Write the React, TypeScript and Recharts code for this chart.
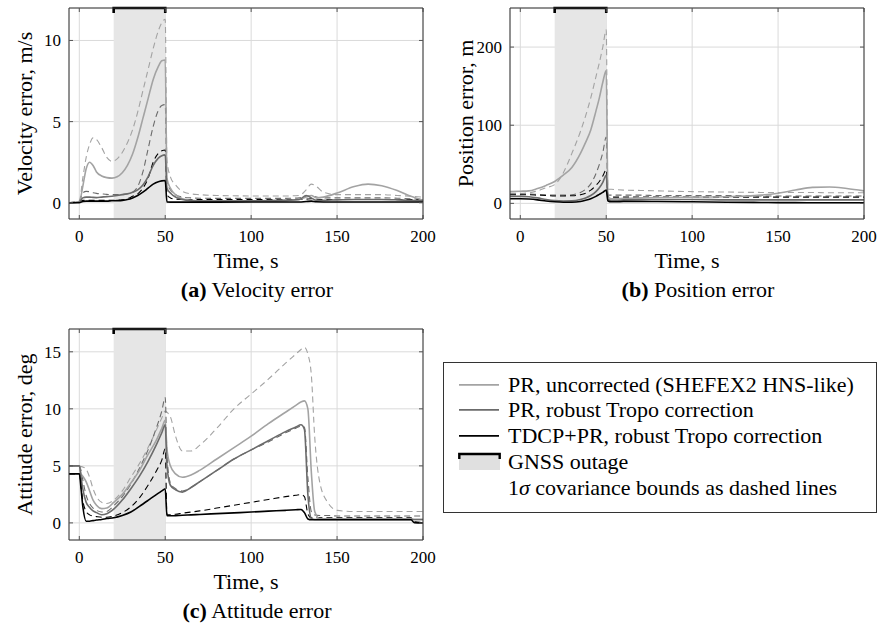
import { CartesianGrid, Line, LineChart, ReferenceArea, XAxis, YAxis } from "recharts";

const SERIF = "'Times New Roman', 'Liberation Serif', Tinos, 'Nimbus Roman', 'DejaVu Serif', serif";
const LIGHT = "#a3a3a3";
const MID = "#6b6b6b";
const DARK = "#000000";

const timeTicks = [0, 50, 100, 150, 200];
const timeDomain = [-6, 200];
const outageStart = 20;
const outageEnd = 50;

// (a) velocity error, m/s
const velTime = [-6, 0, 2, 4, 6, 8, 10, 13, 16, 19, 22, 25, 28, 31, 34, 37, 40, 43, 46, 48, 50, 51, 53, 56, 60, 65, 70, 80, 100, 120, 128, 132, 135, 138, 142, 150, 160, 168, 176, 185, 193, 200];
const velPR = [0, 0.05, 1.0, 2.1, 2.5, 2.3, 1.9, 1.65, 1.55, 1.52, 1.6, 1.85, 2.3, 3.0, 4.0, 5.2, 6.4, 7.6, 8.4, 8.75, 8.8, 1.5, 0.9, 0.5, 0.25, 0.15, 0.12, 0.1, 0.12, 0.15, 0.2, 0.35, 0.45, 0.3, 0.35, 0.6, 1.0, 1.15, 1.05, 0.75, 0.4, 0.15];
const velPRSigma = [0, 0.1, 1.5, 2.8, 3.6, 4.0, 3.9, 3.4, 2.8, 2.55, 2.7, 3.1, 3.7, 4.5, 5.6, 6.9, 8.2, 9.5, 10.6, 11.1, 11.3, 2.6, 1.6, 1.1, 0.7, 0.55, 0.5, 0.45, 0.42, 0.42, 0.45, 0.8, 1.15, 1.0, 0.65, 0.5, 0.5, 0.5, 0.5, 0.45, 0.4, 0.35];
const velRobust = [0, 0.05, 0.3, 0.35, 0.35, 0.33, 0.32, 0.35, 0.38, 0.4, 0.45, 0.5, 0.55, 0.65, 0.8, 1.1, 1.6, 2.3, 2.75, 2.9, 2.95, 0.9, 0.6, 0.35, 0.2, 0.12, 0.1, 0.1, 0.12, 0.15, 0.2, 0.45, 0.3, 0.15, 0.15, 0.18, 0.2, 0.2, 0.2, 0.18, 0.15, 0.12];
const velRobustSigma = [0, 0.1, 0.6, 0.7, 0.68, 0.62, 0.58, 0.55, 0.52, 0.5, 0.5, 0.52, 0.55, 0.65, 1.0, 1.9, 3.3, 4.7, 5.7, 6.0, 6.05, 1.2, 0.8, 0.5, 0.35, 0.3, 0.28, 0.27, 0.27, 0.27, 0.3, 0.4, 0.45, 0.35, 0.3, 0.3, 0.3, 0.3, 0.3, 0.28, 0.25, 0.2];
const velTdcp = [0, 0, 0.08, 0.1, 0.1, 0.1, 0.1, 0.1, 0.1, 0.12, 0.13, 0.15, 0.2, 0.3, 0.45, 0.65, 0.9, 1.15, 1.3, 1.35, 1.37, 0.05, 0.04, 0.04, 0.04, 0.04, 0.04, 0.04, 0.05, 0.05, 0.05, 0.08, 0.1, 0.06, 0.05, 0.05, 0.05, 0.05, 0.05, 0.05, 0.05, 0.05];
const velTdcpSigma = [0, 0.05, 0.15, 0.15, 0.15, 0.15, 0.15, 0.15, 0.15, 0.15, 0.16, 0.18, 0.25, 0.4, 0.55, 0.9, 1.5, 2.5, 3.05, 3.2, 3.25, 0.5, 0.3, 0.22, 0.2, 0.2, 0.2, 0.2, 0.2, 0.2, 0.2, 0.22, 0.25, 0.22, 0.2, 0.2, 0.2, 0.2, 0.2, 0.2, 0.2, 0.2];

// (b) position error, m
const posTime = [-6, 0, 5, 10, 15, 20, 25, 30, 35, 38, 41, 44, 46, 48, 50, 51, 53, 56, 60, 70, 80, 100, 120, 140, 150, 160, 170, 180, 190, 200];
const posPR = [15, 15.5, 16, 19, 23, 28, 36, 46, 64, 78, 94, 118, 135, 155, 170, 8, 6, 6, 6.5, 7, 7.5, 8, 8.5, 10.5, 13, 17, 20.5, 21, 19, 16];
const posPRSigma = [13, 13, 13.5, 16, 20, 24, 39, 64, 92, 112, 135, 162, 180, 200, 222, 18, 18, 17.5, 17, 16.5, 16, 15, 14.5, 14, 14, 14, 14, 13.5, 13.5, 13.5];
const posRobust = [9, 9, 8.5, 7, 5, 3.5, 3, 3.2, 5, 7, 10, 15, 20, 27, 36, 5, 4, 4, 4.5, 5, 5, 5, 4.5, 4.5, 4.5, 4.5, 4.5, 4.5, 4.5, 4.5];
const posRobustSigma = [12, 12, 12, 11.5, 11, 10.5, 10.5, 11, 14, 18, 25, 38, 50, 65, 85, 10.5, 10.5, 10.5, 10.5, 10.5, 10, 10, 10, 9.5, 9.5, 9.5, 9.5, 9.5, 9.5, 9.5];
const posTdcp = [6, 6, 5.5, 4.5, 3, 2, 1.5, 1.5, 2.5, 4, 6, 9, 11.5, 14, 17, 3, 2, 2, 2.5, 2.5, 2.3, 2, 1.5, 1.2, 1, 1, 0.8, 0.8, 0.8, 0.8];
const posTdcpSigma = [11, 11, 11, 10.5, 10, 9.5, 9.5, 9.8, 11, 13, 17, 23, 28, 35, 43, 8.5, 8, 8, 8, 8, 8, 8, 8, 8, 8, 8, 8, 8, 8, 8];

// (c) attitude error, deg
const attTime = [-6, 0, 1, 2, 4, 6, 8, 10, 13, 16, 20, 25, 30, 35, 40, 45, 48, 50, 51, 53, 56, 60, 65, 70, 80, 90, 100, 110, 120, 126, 129, 131, 133, 135, 137, 140, 145, 150, 160, 180, 193, 195, 200];
const attPR = [5, 5, 4.3, 4.1, 3.6, 2.8, 2.0, 1.55, 1.25, 1.3, 1.8, 2.5, 3.5, 4.6, 6.0, 7.3, 8.3, 9.0, 6.5, 5.0, 4.3, 4.0, 4.2, 4.6, 5.6, 6.6, 7.6, 8.7, 9.7, 10.3, 10.6, 10.7, 10.0, 4.5, 1.0, 0.35, 0.35, 0.35, 0.35, 0.35, 0.35, 0.3, 0.3];
const attPRSigma = [5, 5, 4.95, 4.9, 4.7, 4.0, 3.0, 2.3, 1.8, 1.7, 2.0, 2.8, 4.0, 5.2, 6.6, 8.2, 9.2, 9.8, 9.7, 9.3, 7.6, 6.3, 6.3, 6.8, 8.3, 10.0, 11.3, 12.6, 14.0, 14.8, 15.2, 15.4, 14.8, 13.0, 7.5, 3.5, 1.7, 1.1, 1.0, 1.0, 1.0, 1.0, 1.0];
const attRobust = [5, 5, 4.0, 3.0, 1.8, 1.35, 1.05, 0.9, 0.72, 0.8, 1.2, 2.0, 3.0, 4.1, 5.4, 6.9, 7.9, 8.6, 5.0, 3.3, 2.9, 2.7, 3.1, 3.6, 4.6, 5.6, 6.4, 7.2, 8.0, 8.4, 8.6, 8.2, 2.5, 0.4, 0.3, 0.3, 0.3, 0.3, 0.3, 0.3, 0.3, 0.3, 0.3];
const attRobustSigma = [5, 5, 4.6, 3.8, 2.4, 1.7, 1.3, 1.1, 0.95, 1.0, 1.5, 2.3, 3.4, 4.8, 6.4, 8.4, 9.8, 11.0, 6.0, 3.5, 3.0, 2.8, 3.1, 3.6, 4.6, 5.6, 6.4, 7.1, 7.9, 8.3, 8.5, 8.4, 4.0, 1.0, 0.7, 0.65, 0.65, 0.6, 0.6, 0.6, 0.6, 0.6, 0.6];
const attTdcp = [4.3, 4.3, 3.0, 1.5, 0.15, 0.15, 0.2, 0.25, 0.3, 0.38, 0.45, 0.65, 0.95, 1.45, 1.97, 2.5, 2.8, 3.0, 0.62, 0.62, 0.64, 0.67, 0.7, 0.74, 0.81, 0.88, 0.95, 1.03, 1.1, 1.15, 1.18, 0.9, 0.35, 0.28, 0.28, 0.28, 0.28, 0.28, 0.28, 0.28, 0.28, 0.02, 0.0];
const attTdcpSigma = [4.3, 4.3, 3.2, 2.0, 1.0, 0.7, 0.6, 0.55, 0.5, 0.5, 0.6, 0.9, 1.4, 2.2, 3.3, 4.6, 5.5, 6.5, 0.7, 0.72, 0.76, 0.85, 0.95, 1.05, 1.3, 1.55, 1.8, 2.05, 2.3, 2.42, 2.48, 2.3, 0.8, 0.45, 0.45, 0.45, 0.45, 0.45, 0.45, 0.45, 0.45, 0.1, 0.05];

type Series = { pr: number[]; prS: number[]; rob: number[]; robS: number[]; tdcp: number[]; tdcpS: number[] };

function toRows(time: number[], s: Series) {
  return time.map((t, i) => ({
    t,
    pr: s.pr[i],
    prS: s.prS[i],
    rob: s.rob[i],
    robS: s.robS[i],
    tdcp: s.tdcp[i],
    tdcpS: s.tdcpS[i],
  }));
}

const velRows = toRows(velTime, { pr: velPR, prS: velPRSigma, rob: velRobust, robS: velRobustSigma, tdcp: velTdcp, tdcpS: velTdcpSigma });
const posRows = toRows(posTime, { pr: posPR, prS: posPRSigma, rob: posRobust, robS: posRobustSigma, tdcp: posTdcp, tdcpS: posTdcpSigma });
const attRows = toRows(attTime, { pr: attPR, prS: attPRSigma, rob: attRobust, robS: attRobustSigma, tdcp: attTdcp, tdcpS: attTdcpSigma });

// dashed bounds first, solid estimates on top
const lineStyles = [
  { key: "prS", color: LIGHT, dashed: true },
  { key: "robS", color: MID, dashed: true },
  { key: "tdcpS", color: DARK, dashed: true },
  { key: "pr", color: LIGHT, dashed: false },
  { key: "rob", color: MID, dashed: false },
  { key: "tdcp", color: DARK, dashed: false },
];

const legendItems = [
  { label: "PR, uncorrected (SHEFEX2 HNS-like)", color: LIGHT },
  { label: "PR, robust Tropo correction", color: MID },
  { label: "TDCP+PR, robust Tropo correction", color: DARK },
];

function OutageShape(props: any) {
  const { x, y, width, height } = props;
  if (x == null || y == null) return null;
  return (
    <g>
      <rect x={x} y={y} width={width} height={height} fill="#e6e6e6" />
      <path
        d={`M${x},${y + 5} V${y} H${x + width} V${y + 5}`}
        fill="none"
        stroke="#000"
        strokeWidth={2.6}
        strokeLinejoin="miter"
      />
    </g>
  );
}

const tickFont = { fill: "#000", fontSize: 17, fontFamily: SERIF };
const titleFont = { fill: "#000", fontSize: 22, fontFamily: SERIF };

function ErrorPanel({
  left,
  top,
  rows,
  yDomain,
  yTicks,
  yLabel,
}: {
  left: number;
  top: number;
  rows: any[];
  yDomain: number[];
  yTicks: number[];
  yLabel: string;
}) {
  return (
    <div style={{ position: "absolute", left, top }}>
      <LineChart width={440} height={300} data={rows} margin={{ top: 7, right: 16, bottom: 0, left: 0 }}>
        <ReferenceArea x1={outageStart} x2={outageEnd} shape={(p: any) => <OutageShape {...p} />} />
        <CartesianGrid stroke="#dadada" />
        <XAxis
          dataKey="t"
          type="number"
          domain={timeDomain}
          ticks={timeTicks}
          allowDataOverflow
          height={81}
          tickSize={-4}
          tickMargin={15}
          axisLine={{ stroke: "#333" }}
          tickLine={{ stroke: "#555" }}
          tick={tickFont}
          label={{ value: "Time, s", position: "center", dy: 1, ...titleFont }}
        />
        <XAxis
          xAxisId="top"
          orientation="top"
          dataKey="t"
          type="number"
          domain={timeDomain}
          ticks={timeTicks}
          allowDataOverflow
          height={1}
          tickSize={-4}
          axisLine={{ stroke: "#333" }}
          tickLine={{ stroke: "#555" }}
          tickFormatter={() => ""}
        />
        <YAxis
          type="number"
          domain={yDomain}
          ticks={yTicks}
          allowDataOverflow
          width={69}
          tickSize={-4}
          tickMargin={12}
          axisLine={{ stroke: "#333" }}
          tickLine={{ stroke: "#555" }}
          tick={tickFont}
          label={{ value: yLabel, angle: -90, position: "center", dx: -10, ...titleFont }}
        />
        <YAxis
          yAxisId="right"
          orientation="right"
          type="number"
          domain={yDomain}
          ticks={yTicks}
          allowDataOverflow
          width={1}
          tickSize={-4}
          axisLine={{ stroke: "#333" }}
          tickLine={{ stroke: "#555" }}
          tickFormatter={() => ""}
        />
        {lineStyles.map((s) => (
          <Line
            key={s.key}
            dataKey={s.key}
            type="monotone"
            stroke={s.color}
            strokeWidth={s.dashed ? 1.1 : 1.6}
            strokeDasharray={s.dashed ? "6 4" : undefined}
            dot={false}
            isAnimationActive={false}
          />
        ))}
      </LineChart>
    </div>
  );
}

function Caption({ cx, cy, tag, text }: { cx: number; cy: number; tag: string; text: string }) {
  return (
    <div
      style={{
        position: "absolute",
        left: cx - 150,
        top: cy - 13,
        width: 300,
        height: 26,
        lineHeight: "26px",
        textAlign: "center",
        fontSize: 22,
        whiteSpace: "nowrap",
      }}
    >
      <b>{tag}</b> {text}
    </div>
  );
}

function LegendBox() {
  const rowH = 25.8;
  return (
    <div
      style={{
        position: "absolute",
        left: 443,
        top: 362,
        width: 434,
        height: 151,
        border: "1px solid #333",
        boxSizing: "border-box",
        fontSize: 22,
      }}
    >
      {legendItems.map((item, i) => (
        <div key={item.label} style={{ position: "absolute", left: 0, top: 8.5 + i * rowH, height: rowH, lineHeight: `${rowH}px`, whiteSpace: "nowrap" }}>
          <svg width={42} height={rowH} style={{ position: "absolute", left: 15, top: 0 }}>
            <line x1={0} x2={40} y1={rowH / 2} y2={rowH / 2} stroke={item.color} strokeWidth={1.6} />
          </svg>
          <span style={{ position: "absolute", left: 64 }}>{item.label}</span>
        </div>
      ))}
      <div style={{ position: "absolute", left: 0, top: 8.5 + 3 * rowH, height: rowH, lineHeight: `${rowH}px`, whiteSpace: "nowrap" }}>
        <svg width={44} height={rowH} style={{ position: "absolute", left: 14, top: 0 }}>
          <rect x={1} y={5} width={41} height={16} fill="#e0e0e0" />
          <path d="M1.3,10 V5 H41.7 V10" fill="none" stroke="#000" strokeWidth={2.4} />
        </svg>
        <span style={{ position: "absolute", left: 64 }}>GNSS outage</span>
      </div>
      <div style={{ position: "absolute", left: 0, top: 8.5 + 4 * rowH, height: rowH, lineHeight: `${rowH}px`, whiteSpace: "nowrap" }}>
        <span style={{ position: "absolute", left: 64 }}>
          1<i>σ</i> covariance bounds as dashed lines
        </span>
      </div>
    </div>
  );
}

export default function App() {
  return (
    <div
      style={{
        position: "absolute",
        left: 0,
        top: 0,
        width: 881,
        height: 627,
        background: "#fff",
        fontFamily: SERIF,
        color: "#000",
        overflow: "hidden",
      }}
    >
      <ErrorPanel left={0} top={0} rows={velRows} yDomain={[-1, 12]} yTicks={[0, 5, 10]} yLabel="Velocity error, m/s" />
      <ErrorPanel left={441} top={0} rows={posRows} yDomain={[-20, 250]} yTicks={[0, 100, 200]} yLabel="Position error, m" />
      <ErrorPanel left={0} top={321} rows={attRows} yDomain={[-1.5, 17]} yTicks={[0, 5, 10, 15]} yLabel="Attitude error, deg" />
      <Caption cx={257} cy={290} tag="(a)" text="Velocity error" />
      <Caption cx={698} cy={290} tag="(b)" text="Position error" />
      <Caption cx={257} cy={611} tag="(c)" text="Attitude error" />
      <LegendBox />
    </div>
  );
}
